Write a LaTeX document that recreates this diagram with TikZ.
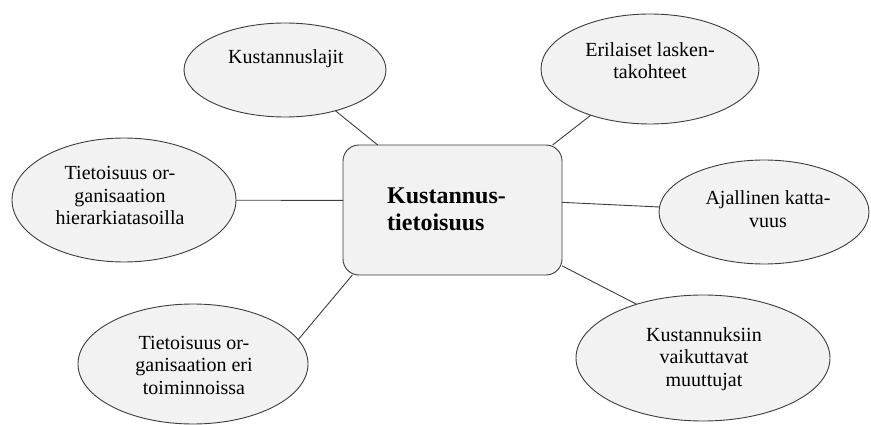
\documentclass[tikz,border=0pt]{standalone}
\usepackage{fontspec}
\setmainfont{LiberationSerif}[
  Extension=.ttf,
  UprightFont=*-Regular,
  BoldFont=*-Bold,
  ItalicFont=*-Italic,
  BoldItalicFont=*-BoldItalic]
\usetikzlibrary{shapes.geometric}
\definecolor{bubblefill}{HTML}{F2F2F2}
\definecolor{edgegray}{HTML}{3C3C3C}
\begin{document}
\begin{tikzpicture}[x=1pt,y=-1pt,
  bubble/.style={ellipse, draw=edgegray, fill=bubblefill, line width=0.9pt,
    inner sep=0pt, outer sep=0pt},
  hubbox/.style={rectangle, rounded corners=16pt, draw=edgegray, fill=bubblefill,
    line width=0.9pt, inner sep=0pt, outer sep=0pt,
    minimum width=219pt, minimum height=130pt},
  bubbletext/.style={anchor=base, align=center, inner sep=0pt,
    font=\fontsize{20}{22.5}\selectfont},
  hubtext/.style={anchor=base west, align=left, inner sep=0pt,
    font=\fontsize{24}{27}\selectfont\bfseries},
  link/.style={draw=edgegray, line width=0.9pt}]
\useasboundingbox (0,0) rectangle (871,425);

% satellite bubbles
\node[bubble, minimum width=202pt, minimum height=94pt]  (kl) at (285,70)  {};
\node[bubble, minimum width=218pt, minimum height=110pt] (er) at (650,69)  {};
\node[bubble, minimum width=224pt, minimum height=124pt] (th) at (124,200) {};
\node[bubble, minimum width=210pt, minimum height=104pt] (aj) at (764,212) {};
\node[bubble, minimum width=230pt, minimum height=120pt] (tt) at (193,364) {};
\node[bubble, minimum width=254pt, minimum height=126pt] (km) at (703,358) {};

% central box
\node[hubbox] (hub) at (452.5,210) {};

% texts (anchored at the baseline of the last line)
\node[bubbletext] (klt) at (286,64)  {Kustannuslajit};
\node[bubbletext] (ert) at (650,79)  {Erilaiset lasken-\\takohteet};
\node[bubbletext] (tht) at (120,225) {Tietoisuus or-\\ganisaation\\hierarkiatasoilla};
\node[bubbletext] (ajt) at (768,227) {Ajallinen katta-\\vuus};
\node[bubbletext] (ttt) at (194,394) {Tietoisuus or-\\ganisaation eri\\toiminnoissa};
\node[bubbletext] (kmt) at (704,386) {Kustannuksiin\\vaikuttavat\\muuttujat};
\node[hubtext] (hubt) at (387,230) {Kustannus-\\tietoisuus};

% connectors
\draw[link] (kl) -- (hub.139.3);
\draw[link] (er) -- (hub.33.4);
\draw[link] (th) -- (hub.175.3);
\draw[link] (aj) -- (hub.4.2);
\draw[link] (tt.13.5) -- (hub.213.2);
\draw[link] (km.141) -- (hub.-27.1);
\end{tikzpicture}
\end{document}
